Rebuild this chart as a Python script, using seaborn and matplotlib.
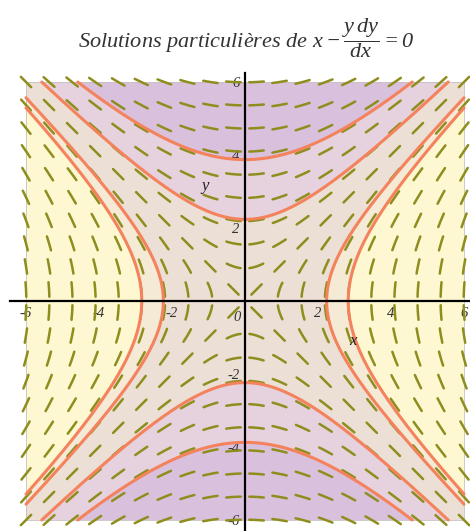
import numpy as np
import pandas as pd
import matplotlib
matplotlib.use("Agg")
import matplotlib.pyplot as plt
import seaborn as sns
from matplotlib.collections import LineCollection
from matplotlib.patches import Rectangle

# Equation x - y dy/dx = 0  ->  dy/dx = x / y ; solutions y^2 - x^2 = C
domain = (-6.0, 6.0)
grid_count = 20                       # direction-field points per axis
vertical_branch_C = [5.0, 15.0]       # y^2 - x^2 = C (opening up/down)
horizontal_branch_C = [5.0, 8.0]      # x^2 - y^2 = C (opening left/right)
band_levels = [-8.0, -5.0, 5.0, 15.0] # shading bands of y^2 - x^2
band_colors = ["#fdf8d2", "#f4ead6", "#ecdfd6", "#e5d2de", "#d9c1dd"]
x_tick_labels = [-6, -4, -2, 2, 4, 6]
y_tick_labels = [-6, -4, -2, 2, 4, 6]
title_text = r"Solutions particulières de $x - \dfrac{y\,dy}{dx} = 0$"

sns.set_theme(style="white")
plt.rcParams["font.family"] = ["Liberation Serif", "DejaVu Serif"]
plt.rcParams["mathtext.fontset"] = "custom"
plt.rcParams["mathtext.it"] = "Liberation Serif:italic"
plt.rcParams["mathtext.rm"] = "Liberation Serif:italic"

W, H = 470, 531
fig = plt.figure(figsize=(W / 100, H / 100), dpi=100)
fig.patch.set_facecolor("white")

# pixel geometry: data -6 -> 26 px, +6 -> 464 px (x); +6 -> 82 px, -6 -> 520 px (y, from top)
ppu = 36.5
xlim = (-6.45, 6.45)
ylim = (-6.3, 6.25)
left_px = 26 - (xlim[0] - domain[0]) * -ppu
bottom_px = (H - 520) - (domain[0] - ylim[0]) * ppu
ax = fig.add_axes([left_px / W, bottom_px / H,
                   (xlim[1] - xlim[0]) * ppu / W, (ylim[1] - ylim[0]) * ppu / H])
ax.set_xlim(*xlim)
ax.set_ylim(*ylim)
ax.set_facecolor("none")

# shaded bands of y^2 - x^2 over the domain
gx = np.linspace(domain[0], domain[1], 400)
GX, GY = np.meshgrid(gx, gx)
F = GY ** 2 - GX ** 2
levels = [-1e9] + band_levels + [1e9]
ax.contourf(GX, GY, F, levels=levels, colors=band_colors, zorder=0)
ax.add_patch(Rectangle((domain[0], domain[0]), 12, 12, fill=False,
                       edgecolor="#c8c0c0", lw=0.6, zorder=0.5))

# direction field: short solution arcs centred on each grid point
def arc(x0, y0, half_len=0.2, steps=12):
    h = half_len / steps
    def f(p):
        v = np.array([p[1], p[0]])
        n = np.hypot(*v)
        return v / n if n > 1e-12 else np.array([1.0, 0.0])
    pts_f, pts_b = [], []
    for sign, store in ((1, pts_f), (-1, pts_b)):
        p = np.array([x0, y0], float)
        d_prev = f(p)
        for _ in range(steps):
            k1 = f(p)
            if np.dot(k1, d_prev) < 0:
                k1 = -k1
            k2 = f(p + sign * 0.5 * h * k1)
            if np.dot(k2, k1) < 0:
                k2 = -k2
            k3 = f(p + sign * 0.5 * h * k2)
            if np.dot(k3, k1) < 0:
                k3 = -k3
            k4 = f(p + sign * h * k3)
            if np.dot(k4, k1) < 0:
                k4 = -k4
            d = (k1 + 2 * k2 + 2 * k3 + k4) / 6
            p = p + sign * h * d
            d_prev = d
            store.append(p.copy())
    return np.vstack([pts_b[::-1], [[x0, y0]], pts_f])

g = np.linspace(domain[0], domain[1], grid_count)
segments = [arc(x0, y0) for x0 in g for y0 in g]
ax.add_collection(LineCollection(segments, colors="#8e8e1e", linewidths=1.8,
                                 capstyle="round", zorder=2))

# particular solutions
rows = []
for C in vertical_branch_C:
    tmax = np.arccosh(6 / np.sqrt(C))
    t = np.linspace(-tmax, tmax, 300)
    for s in (1, -1):
        for xx, yy in zip(np.sqrt(C) * np.sinh(t), s * np.sqrt(C) * np.cosh(t)):
            rows.append(("v%g%+d" % (C, s), xx, yy))
for C in horizontal_branch_C:
    tmax = np.arccosh(6 / np.sqrt(C))
    t = np.linspace(-tmax, tmax, 300)
    for s in (1, -1):
        for xx, yy in zip(s * np.sqrt(C) * np.cosh(t), np.sqrt(C) * np.sinh(t)):
            rows.append(("h%g%+d" % (C, s), xx, yy))
curves = pd.DataFrame(rows, columns=["curve", "x", "y"])
sns.lineplot(data=curves, x="x", y="y", units="curve", estimator=None, sort=False,
             color="#f4825c", lw=2.2, ax=ax, zorder=3, legend=False)
ax.set_xlabel("")
ax.set_ylabel("")

# axes through the origin
for side in ("top", "right"):
    ax.spines[side].set_visible(False)
ax.spines["left"].set_position(("data", 0))
ax.spines["bottom"].set_position(("data", 0))
for side in ("left", "bottom"):
    ax.spines[side].set_color("black")
    ax.spines[side].set_linewidth(1.6)
    ax.spines[side].set_zorder(4)
ax.set_xticks(x_tick_labels)
ax.set_yticks(y_tick_labels)
ax.set_xticks([v for v in range(-5, 6, 2)], minor=True)
ax.set_yticks([v for v in range(-5, 6, 2)], minor=True)
lab_font = dict(family="Liberation Serif", style="italic", size=10.5, color="#333333")
ax.set_xticklabels([str(v) for v in x_tick_labels], fontdict=lab_font)
ax.set_yticklabels([str(v) for v in y_tick_labels], fontdict=lab_font)
ax.tick_params(which="both", direction="inout", length=4, width=1, colors="black",
               pad=2, labelcolor="#333333")
ax.text(-0.22, -0.28, "0", ha="center", va="top", **lab_font)
ax.text(2.95, -1.1, "x", ha="center", va="center", family="Liberation Serif",
        style="italic", size=12, color="#222222", zorder=5)
ax.text(-1.1, 3.15, "y", ha="center", va="center", family="Liberation Serif",
        style="italic", size=12, color="#222222", zorder=5)

fig.text(246 / W, 1 - 38 / H, title_text, ha="center", va="center",
         family="Liberation Serif", style="italic", size=16, color="#333333")

fig.savefig("out.png", dpi=100)
